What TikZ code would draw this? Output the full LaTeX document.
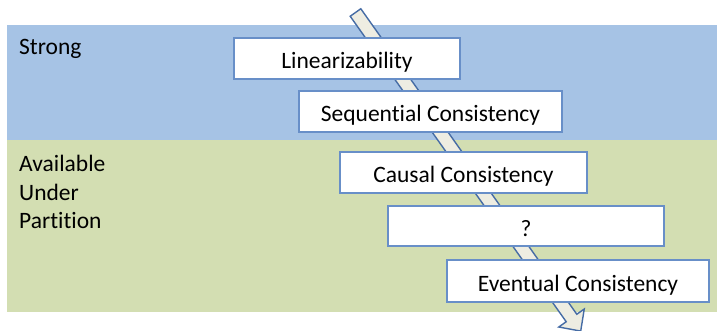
\documentclass[tikz,border=0pt]{standalone}
\usepackage{fontspec}
\setmainfont[Ligatures=NoCommon]{Carlito}
\definecolor{bandblue}{RGB}{166,195,229}
\definecolor{bandgreen}{RGB}{211,222,178}
\definecolor{boxedge}{RGB}{104,143,200}
\definecolor{arrowfill}{RGB}{238,237,226}
\definecolor{arrowedge}{RGB}{70,108,165}
\tikzset{
  levelbox/.style={draw=boxedge, line width=1.8pt, fill=white, inner sep=0pt,
    text height=20pt, text depth=0pt,
    minimum height=41pt, font=\fontsize{23.5}{28.5}\selectfont},
  bandlabel/.style={inner sep=0pt, align=left, font=\fontsize{23.5}{28.5}\selectfont},
}
\begin{document}
\begin{tikzpicture}[x=1pt, y=-1pt]
  \useasboundingbox (0,0) rectangle (717,331);
  % the two bands
  \fill[bandblue] (7,25) rectangle (717,140);
  \fill[bandgreen] (7,140) rectangle (717,312);
  \node[bandlabel, anchor=base west] (strong) at (19,55) {Strong};
  \node[bandlabel, anchor=north west] (avail) at (19,155) {Available\\Under\\Partition};
  % the block arrow running behind the levels
  \coordinate (tail) at (355.5,12.5);
  \coordinate (tip) at (580.7,331.1);
  \filldraw[fill=arrowfill, draw=arrowedge, line width=1.4pt, line join=miter]
    (350.2,16.25) -- (566.2,321.75) -- (558.75,327) -- (tip)
    -- (584.25,309) -- (576.8,314.25) -- (360.8,8.75) -- cycle;
  % the consistency levels
  \node[levelbox, minimum width=226pt] (lin) at (347,58.5) {Linearizability};
  \node[levelbox, minimum width=263pt] (seq) at (430.5,111.5) {Sequential Consistency};
  \node[levelbox, minimum width=247pt] (causal) at (463.5,172.5) {Causal Consistency};
  \node[levelbox, minimum width=276pt, minimum height=40pt] (unknown) at (526,226) {?};
  \node[levelbox, minimum width=262pt, minimum height=42pt] (eventual) at (578,281) {Eventual Consistency};
\end{tikzpicture}
\end{document}
